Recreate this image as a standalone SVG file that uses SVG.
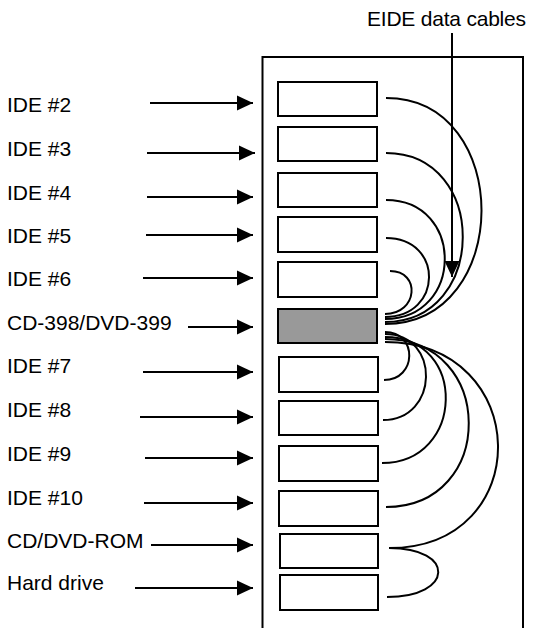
<svg xmlns="http://www.w3.org/2000/svg" width="534" height="628" viewBox="0 0 534 628">
<style>
  text { font-family: "Liberation Sans", Arial, sans-serif; font-size: 21px; fill: #000; }
  .box { fill: #fff; stroke: #000; stroke-width: 2; }
  .grey { fill: #999999; }
  .ln { fill: none; stroke: #000; stroke-width: 2; }
  .cab { fill: none; stroke: #000; stroke-width: 2; }
</style>
<defs>
  <marker id="ah" markerUnits="userSpaceOnUse" markerWidth="16" markerHeight="16" viewBox="0 0 15 14" refX="15" refY="7" orient="auto">
    <path d="M0,0 L15,7 L0,14 Z" fill="#000"/>
  </marker>
</defs>
<rect width="534" height="628" fill="#fff"/>
<g id="enclosure">
  <path class="ln" d="M262.5,628 V57 H523 V628"/>
</g>
<g id="title">
  <text x="367" y="26" textLength="159">EIDE data cables</text>
</g>
<g id="ide2"><rect class="box" x="278" y="82" width="99" height="34"/><text x="7" y="112">IDE #2</text></g>
<g id="ide3"><rect class="box" x="278" y="127" width="99" height="34"/><text x="7" y="156">IDE #3</text></g>
<g id="ide4"><rect class="box" x="278" y="173" width="99" height="34"/><text x="7" y="200">IDE #4</text></g>
<g id="ide5"><rect class="box" x="278" y="217" width="99" height="35"/><text x="7" y="243">IDE #5</text></g>
<g id="ide6"><rect class="box" x="278" y="262" width="99" height="35"/><text x="7" y="286">IDE #6</text></g>
<g id="cd398"><rect class="box grey" x="278" y="309" width="99" height="34"/><text x="7" y="330">CD-398/DVD-399</text></g>
<g id="ide7"><rect class="box" x="279" y="357" width="99" height="35"/><text x="7" y="373">IDE #7</text></g>
<g id="ide8"><rect class="box" x="279" y="401" width="99" height="34"/><text x="7" y="417">IDE #8</text></g>
<g id="ide9"><rect class="box" x="279" y="446" width="99" height="35"/><text x="7" y="461">IDE #9</text></g>
<g id="ide10"><rect class="box" x="279" y="491" width="99" height="35"/><text x="7" y="505">IDE #10</text></g>
<g id="cdrom"><rect class="box" x="280" y="534" width="98" height="34"/><text x="7" y="548">CD/DVD-ROM</text></g>
<g id="hdd"><rect class="box" x="280" y="575" width="98" height="35"/><text x="7" y="590">Hard drive</text></g>
<g id="connectors">
  <line class="ln" x1="150" y1="103" x2="253" y2="103" marker-end="url(#ah)"/>
  <line class="ln" x1="147" y1="153" x2="255" y2="153" marker-end="url(#ah)"/>
  <line class="ln" x1="147" y1="197" x2="253" y2="197" marker-end="url(#ah)"/>
  <line class="ln" x1="146" y1="235" x2="253" y2="235" marker-end="url(#ah)"/>
  <line class="ln" x1="143" y1="278" x2="253" y2="278" marker-end="url(#ah)"/>
  <line class="ln" x1="188" y1="327" x2="253" y2="327" marker-end="url(#ah)"/>
  <line class="ln" x1="143" y1="372" x2="253" y2="372" marker-end="url(#ah)"/>
  <line class="ln" x1="140" y1="417" x2="253" y2="417" marker-end="url(#ah)"/>
  <line class="ln" x1="145" y1="458" x2="253" y2="458" marker-end="url(#ah)"/>
  <line class="ln" x1="144" y1="503" x2="253" y2="503" marker-end="url(#ah)"/>
  <line class="ln" x1="151" y1="545" x2="253" y2="545" marker-end="url(#ah)"/>
  <line class="ln" x1="135" y1="588" x2="253" y2="588" marker-end="url(#ah)"/>
  <line class="ln" x1="452" y1="33" x2="452" y2="277" marker-end="url(#ah)"/>
  <path class="cab" d="M386,98 C514,98 513,324 385,324"/>
  <path class="cab" d="M386,153 C489,153 488,322 385,322"/>
  <path class="cab" d="M386,200 C465,200 464,319 385,319"/>
  <path class="cab" d="M386,238 C444,238 443,317 385,317"/>
  <path class="cab" d="M390,271 C421,271 418,314 385,314"/>
  <path class="cab" d="M385,332 C418,332 417,380 384,380"/>
  <path class="cab" d="M385,334 C441,334 439,420 383,420"/>
  <path class="cab" d="M385,337 C468,337 465,463 382,463"/>
  <path class="cab" d="M385,339 C496,339 497,507 386,507"/>
  <path class="cab" d="M385,342 C533,342 537,548 389,548"/>
  <path class="cab" d="M389,548 C456,548 454,597 387,597"/>
</g>
</svg>
